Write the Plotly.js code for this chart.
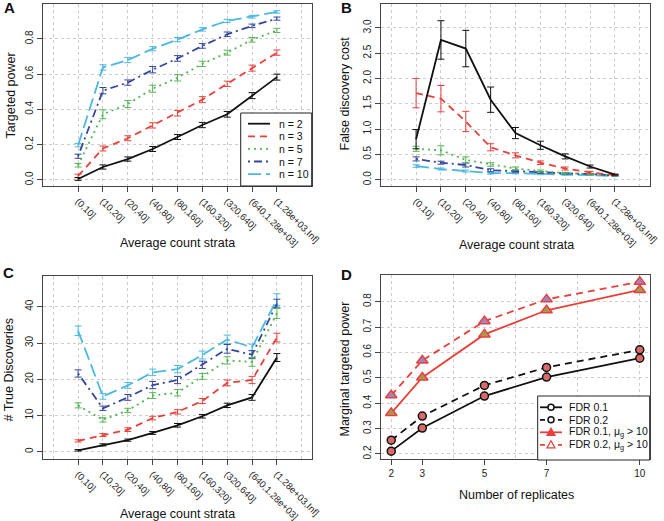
<!DOCTYPE html>
<html>
<head>
<meta charset="utf-8">
<script src="https://cdn.plot.ly/plotly-3.0.1.min.js"></script>
<style>html,body{margin:0;padding:0;background:#fff;}#chart{width:664px;height:521px;}</style>
</head>
<body>
<div id="chart"></div>
<script>
// ---------------- DATA ----------------
const strata = ['(0,10]','(10,20]','(20,40]','(40,80]','(80,160]','(160,320]','(320,640]','(640,1.28e+03]','(1.28e+03,Inf]'];
const seriesNames = ['n = 2','n = 3','n = 5','n = 7','n = 10'];

// Panel A: targeted power
const powerN2  = [0.005,0.073,0.118,0.175,0.243,0.311,0.372,0.478,0.583];
const powerN3  = [0.022,0.178,0.236,0.309,0.378,0.455,0.545,0.634,0.722];
const powerN5  = [0.083,0.372,0.430,0.517,0.579,0.658,0.722,0.795,0.848];
const powerN7  = [0.134,0.506,0.552,0.625,0.689,0.760,0.826,0.874,0.915];
const powerN10 = [0.197,0.638,0.680,0.744,0.796,0.854,0.902,0.926,0.953];
const powerErrN2  = [0.008,0.012,0.012,0.014,0.014,0.015,0.016,0.017,0.017];
const powerErrN3  = [0.010,0.014,0.014,0.015,0.016,0.017,0.015,0.017,0.015];
const powerErrN5  = [0.010,0.025,0.020,0.020,0.018,0.015,0.014,0.013,0.012];
const powerErrN7  = [0.012,0.018,0.015,0.018,0.016,0.013,0.013,0.010,0.009];
const powerErrN10 = [0.010,0.015,0.015,0.012,0.012,0.010,0.009,0.008,0.007];

// Panel B: false discovery cost
const fdcN2  = [0.80,2.76,2.59,1.58,0.92,0.68,0.46,0.26,0.10];
const fdcN3  = [1.71,1.60,1.15,0.64,0.48,0.335,0.22,0.145,0.09];
const fdcN5  = [0.61,0.58,0.39,0.30,0.22,0.17,0.13,0.11,0.085];
const fdcN7  = [0.41,0.335,0.29,0.185,0.17,0.14,0.125,0.11,0.085];
const fdcN10 = [0.27,0.21,0.17,0.13,0.13,0.11,0.10,0.09,0.07];
const fdcErrN2  = [0.19,0.38,0.36,0.25,0.11,0.08,0.05,0.03,0.01];
const fdcErrN3  = [0.29,0.26,0.20,0.07,0.05,0.035,0.03,0.02,0.01];
const fdcErrN5  = [0.05,0.09,0.06,0.035,0.03,0.02,0.015,0.012,0.008];
const fdcErrN7  = [0.04,0.03,0.04,0.03,0.02,0.015,0.012,0.01,0.008];
const fdcErrN10 = [0.025,0.02,0.02,0.02,0.015,0.012,0.01,0.008,0.006];

// Panel C: number of true discoveries
const tdN2  = [0.4,1.9,3.2,5.2,7.3,9.8,12.8,15.0,26.0];
const tdN3  = [3.0,4.6,6.1,9.3,11.0,14.0,19.0,19.8,31.5];
const tdN5  = [12.8,8.8,11.4,15.5,16.3,20.8,25.2,24.8,38.2];
const tdN7  = [21.6,12.0,15.0,18.4,19.8,24.0,28.4,26.8,40.9];
const tdN10 = [33.4,15.3,18.3,21.9,22.8,26.7,31.0,28.8,42.0];
const tdErrN2  = [0.2,0.3,0.3,0.4,0.5,0.5,0.6,0.8,1.1];
const tdErrN3  = [0.3,0.4,0.5,0.5,0.6,0.7,0.8,1.0,1.2];
const tdErrN5  = [0.7,0.6,0.6,0.8,0.9,0.8,1.0,1.2,1.4];
const tdErrN7  = [1.0,0.6,0.8,1.0,1.0,1.0,1.2,1.1,1.2];
const tdErrN10 = [1.3,0.8,0.8,0.9,1.0,1.1,1.2,0.9,1.6];

// Panel D: marginal targeted power
const replicates = [2,3,5,7,10];
const fdr01   = [0.211,0.302,0.428,0.503,0.577];
const fdr02   = [0.254,0.349,0.470,0.541,0.610];
const fdr01mu = [0.361,0.501,0.671,0.766,0.846];
const fdr02mu = [0.431,0.568,0.723,0.809,0.878];
const dNames = ['FDR 0.1','FDR 0.2','FDR 0.1, \u03bc<sub>g</sub> &gt; 10','FDR 0.2, \u03bc<sub>g</sub> &gt; 10'];

// Tick labels
const tickA = ['0.0','0.2','0.4','0.6','0.8'];
const tickB = ['0.0','0.5','1.0','1.5','2.0','2.5','3.0'];
const tickC = ['0','10','20','30','40'];
const tickD = ['0.2','0.3','0.4','0.5','0.6','0.7','0.8'];
const tickDx = ['2','3','5','7','10'];

// ---------------- STYLE ----------------
const W = 664, H = 521;
const px = x => x / W;
const py = y => 1 - y / H;
const FONT = 'Liberation Sans, Arial, sans-serif';
const colors = ['#111111','#e8413c','#55b455','#34479c','#4cb8e2'];
const dashes = ['solid','7px,5px','2px,4px','2px,4px,8px,4px','13px,5px'];
const GRID = '#cccccc';

const idx = strata.map((_, i) => i + 1);
const powerVals = [powerN2, powerN3, powerN5, powerN7, powerN10];
const powerErrs = [powerErrN2, powerErrN3, powerErrN5, powerErrN7, powerErrN10];
const fdcVals = [fdcN2, fdcN3, fdcN5, fdcN7, fdcN10];
const fdcErrs = [fdcErrN2, fdcErrN3, fdcErrN5, fdcErrN7, fdcErrN10];
const tdVals = [tdN2, tdN3, tdN5, tdN7, tdN10];
const tdErrs = [tdErrN2, tdErrN3, tdErrN5, tdErrN7, tdErrN10];

const traces = [];
function addPanel(vals, errs, xa, ya) {
  for (let i = vals.length - 1; i >= 0; i--) {
    traces.push({
      type: 'scatter', mode: 'lines', x: idx, y: vals[i], name: seriesNames[i],
      xaxis: xa, yaxis: ya, showlegend: false, hoverinfo: 'skip',
      line: {color: colors[i], width: 1.8, dash: dashes[i]},
      error_y: {type: 'data', array: errs[i], visible: true, color: colors[i], thickness: 1, width: 3.5}
    });
  }
}
addPanel(powerVals, powerErrs, 'x', 'y');
addPanel(fdcVals, fdcErrs, 'x2', 'y2');
addPanel(tdVals, tdErrs, 'x3', 'y3');

const dSeries = [
  {y: fdr01,   color: '#111111', dash: 'solid',   sym: 'circle',      fill: '#d86a6a', mline: '#111111', size: 8},
  {y: fdr02,   color: '#111111', dash: '7px,5px', sym: 'circle',      fill: '#d86a6a', mline: '#111111', size: 8},
  {y: fdr01mu, color: '#e8413c', dash: 'solid',   sym: 'triangle-up', fill: '#a49a52', mline: '#e8413c', size: 10},
  {y: fdr02mu, color: '#e8413c', dash: '7px,5px', sym: 'triangle-up', fill: '#9a86c6', mline: '#e8413c', size: 10}
];
dSeries.forEach((s, i) => {
  traces.push({
    type: 'scatter', mode: 'lines+markers', x: replicates, y: s.y, name: dNames[i],
    xaxis: 'x4', yaxis: 'y4', showlegend: false, hoverinfo: 'skip',
    line: {color: s.color, width: 1.8, dash: s.dash},
    marker: {symbol: s.sym, size: s.size, color: s.fill, line: {color: s.mline, width: 1.5}}
  });
});

const axBase = {
  showline: true, mirror: true, linecolor: '#444', linewidth: 1,
  ticks: 'outside', ticklen: 5, tickwidth: 1, tickcolor: '#444',
  zeroline: false, showgrid: true, gridcolor: GRID, griddash: 'dot', gridwidth: 1,
  tickfont: {family: FONT, size: 10, color: '#222'}, automargin: false, fixedrange: true
};
const minorCat = {tick0: 0, dtick: 1, showgrid: true, gridcolor: GRID, griddash: 'dot', gridwidth: 1, ticks: ''};

function catX(dom, anchor) {
  return Object.assign({}, axBase, {domain: dom, anchor: anchor, range: [-0.4, 10.4],
    tickmode: 'array', tickvals: idx, ticktext: strata, tickangle: 45, minor: minorCat,
    tickfont: {family: FONT, size: 9.5, color: '#222'}});
}
function valY(dom, anchor, range, tv, tt) {
  return Object.assign({}, axBase, {domain: dom, anchor: anchor, range: range,
    tickmode: 'array', tickvals: tv, ticktext: tt, tickangle: -90});
}
const domXL = [px(43.3), px(311.7)], domXR = [px(381.3), px(649.7)];
const domYT = [py(186), py(4)], domYB = [py(459), py(276)], domYBD = [py(459), py(275)];

const layout = {
  width: W, height: H, margin: {l: 0, r: 0, t: 0, b: 0},
  paper_bgcolor: '#fff', plot_bgcolor: '#fff', showlegend: false,
  font: {family: FONT, color: '#222'},
  xaxis: catX(domXL, 'y'),
  yaxis: valY(domYT, 'x', [-0.035, 0.998], tickA.map(Number), tickA),
  xaxis2: catX(domXR, 'y2'),
  yaxis2: valY(domYT, 'x2', [-0.125, 3.47], tickB.map(Number), tickB),
  xaxis3: catX(domXL, 'y3'),
  yaxis3: valY(domYB, 'x3', [-2.0, 48.5], tickC.map(Number), tickC),
  xaxis4: Object.assign({}, axBase, {domain: domXR, anchor: 'y4', range: [1.68, 10.32],
    tickmode: 'array', tickvals: tickDx.map(Number), ticktext: tickDx, showgrid: false,
    minor: {tick0: 0, dtick: 2, showgrid: true, gridcolor: GRID, griddash: 'dot', gridwidth: 1, ticks: ''}}),
  yaxis4: valY(domYBD, 'x4', [0.18, 0.905], tickD.map(Number), tickD),
  shapes: [], annotations: []
};

// axis titles and panel letters
function ann(text, x, y, size, angle, bold) {
  layout.annotations.push({text: bold ? '<b>' + text + '</b>' : text, xref: 'paper', yref: 'paper',
    x: px(x), y: py(y), xanchor: 'center', yanchor: 'middle', showarrow: false, textangle: angle || 0,
    font: {family: FONT, size: size, color: '#111'}});
}
ann('A', 9, 8, 15, 0, true);
ann('B', 346.5, 8, 15, 0, true);
ann('C', 8, 272, 15, 0, true);
ann('D', 347, 274.5, 15, 0, true);
ann('Targeted power', 10.5, 96, 12.5, -90);
ann('False discovery cost', 344.5, 94, 12.5, -90);
ann('# True Discoveries', 8.5, 370, 12.5, -90);
ann('Marginal targeted power', 344.5, 369, 12.5, -90);
ann('Average count strata', 177.5, 243, 12.5);
ann('Average count strata', 516.5, 245, 12.5);
ann('Average count strata', 177.5, 514, 12.5);
ann('Number of replicates', 516.5, 495, 12.5);

// legend A (drawn within its box)
const legA = {x0: 240.7, y0: 113, x1: 311.7, y1: 186, row0: 123.7, step: 12.6, s0: 248, s1: 270, tx: 277};
layout.shapes.push({type: 'rect', xref: 'paper', yref: 'paper', x0: px(legA.x0), x1: px(legA.x1), y0: py(legA.y1), y1: py(legA.y0),
  line: {color: '#222', width: 1}, fillcolor: '#fff', layer: 'above'});
seriesNames.forEach((nm, i) => {
  const yy = legA.row0 + legA.step * i;
  layout.shapes.push({type: 'line', xref: 'paper', yref: 'paper', x0: px(legA.s0), x1: px(legA.s1), y0: py(yy), y1: py(yy),
    line: {color: colors[i], width: 1.8, dash: dashes[i]}, layer: 'above'});
  layout.annotations.push({text: nm, xref: 'paper', yref: 'paper', x: px(legA.tx), y: py(yy), xanchor: 'left', yanchor: 'middle',
    showarrow: false, font: {family: FONT, size: 10.5, color: '#111'}});
});

// legend D
const legD = {x0: 537.7, y0: 396, x1: 649.7, y1: 460, row0: 407.3, step: 12.5, s0: 540, s1: 562, tx: 567};
layout.shapes.push({type: 'rect', xref: 'paper', yref: 'paper', x0: px(legD.x0), x1: px(legD.x1), y0: py(legD.y1), y1: py(legD.y0),
  line: {color: '#222', width: 1}, fillcolor: '#fff', layer: 'above'});
const legDMarks = [
  {color: '#111111', dash: 'solid', sym: 'circle', fill: '#fff'},
  {color: '#111111', dash: '5px,4px', sym: 'circle', fill: '#fff'},
  {color: '#e8413c', dash: 'solid', sym: 'tri', fill: '#e8413c'},
  {color: '#e8413c', dash: '5px,4px', sym: 'tri', fill: '#fff'}
];
dNames.forEach((nm, i) => {
  const yy = legD.row0 + legD.step * i, m = legDMarks[i];
  const cx = (legD.s0 + legD.s1) / 2;
  layout.shapes.push({type: 'line', xref: 'paper', yref: 'paper', x0: px(legD.s0), x1: px(legD.s1), y0: py(yy), y1: py(yy),
    line: {color: m.color, width: 1.8, dash: m.dash}, layer: 'above'});
  if (m.sym === 'circle') {
    layout.shapes.push({type: 'circle', xref: 'paper', yref: 'paper', x0: px(cx - 3), x1: px(cx + 3), y0: py(yy + 3), y1: py(yy - 3),
      line: {color: m.color, width: 1.5}, fillcolor: m.fill, layer: 'above'});
  } else {
    const p = 'M' + px(cx - 4) + ',' + py(yy + 3) + ' L' + px(cx + 4) + ',' + py(yy + 3) + ' L' + px(cx) + ',' + py(yy - 4) + ' Z';
    layout.shapes.push({type: 'path', xref: 'paper', yref: 'paper', path: p,
      line: {color: m.color, width: 1.3}, fillcolor: m.fill, layer: 'above'});
  }
  layout.annotations.push({text: nm, xref: 'paper', yref: 'paper', x: px(legD.tx), y: py(yy), xanchor: 'left', yanchor: 'middle',
    showarrow: false, font: {family: FONT, size: 10.5, color: '#111'}});
});

Plotly.newPlot('chart', traces, layout, {staticPlot: true, displayModeBar: false});
</script>
</body>
</html>
